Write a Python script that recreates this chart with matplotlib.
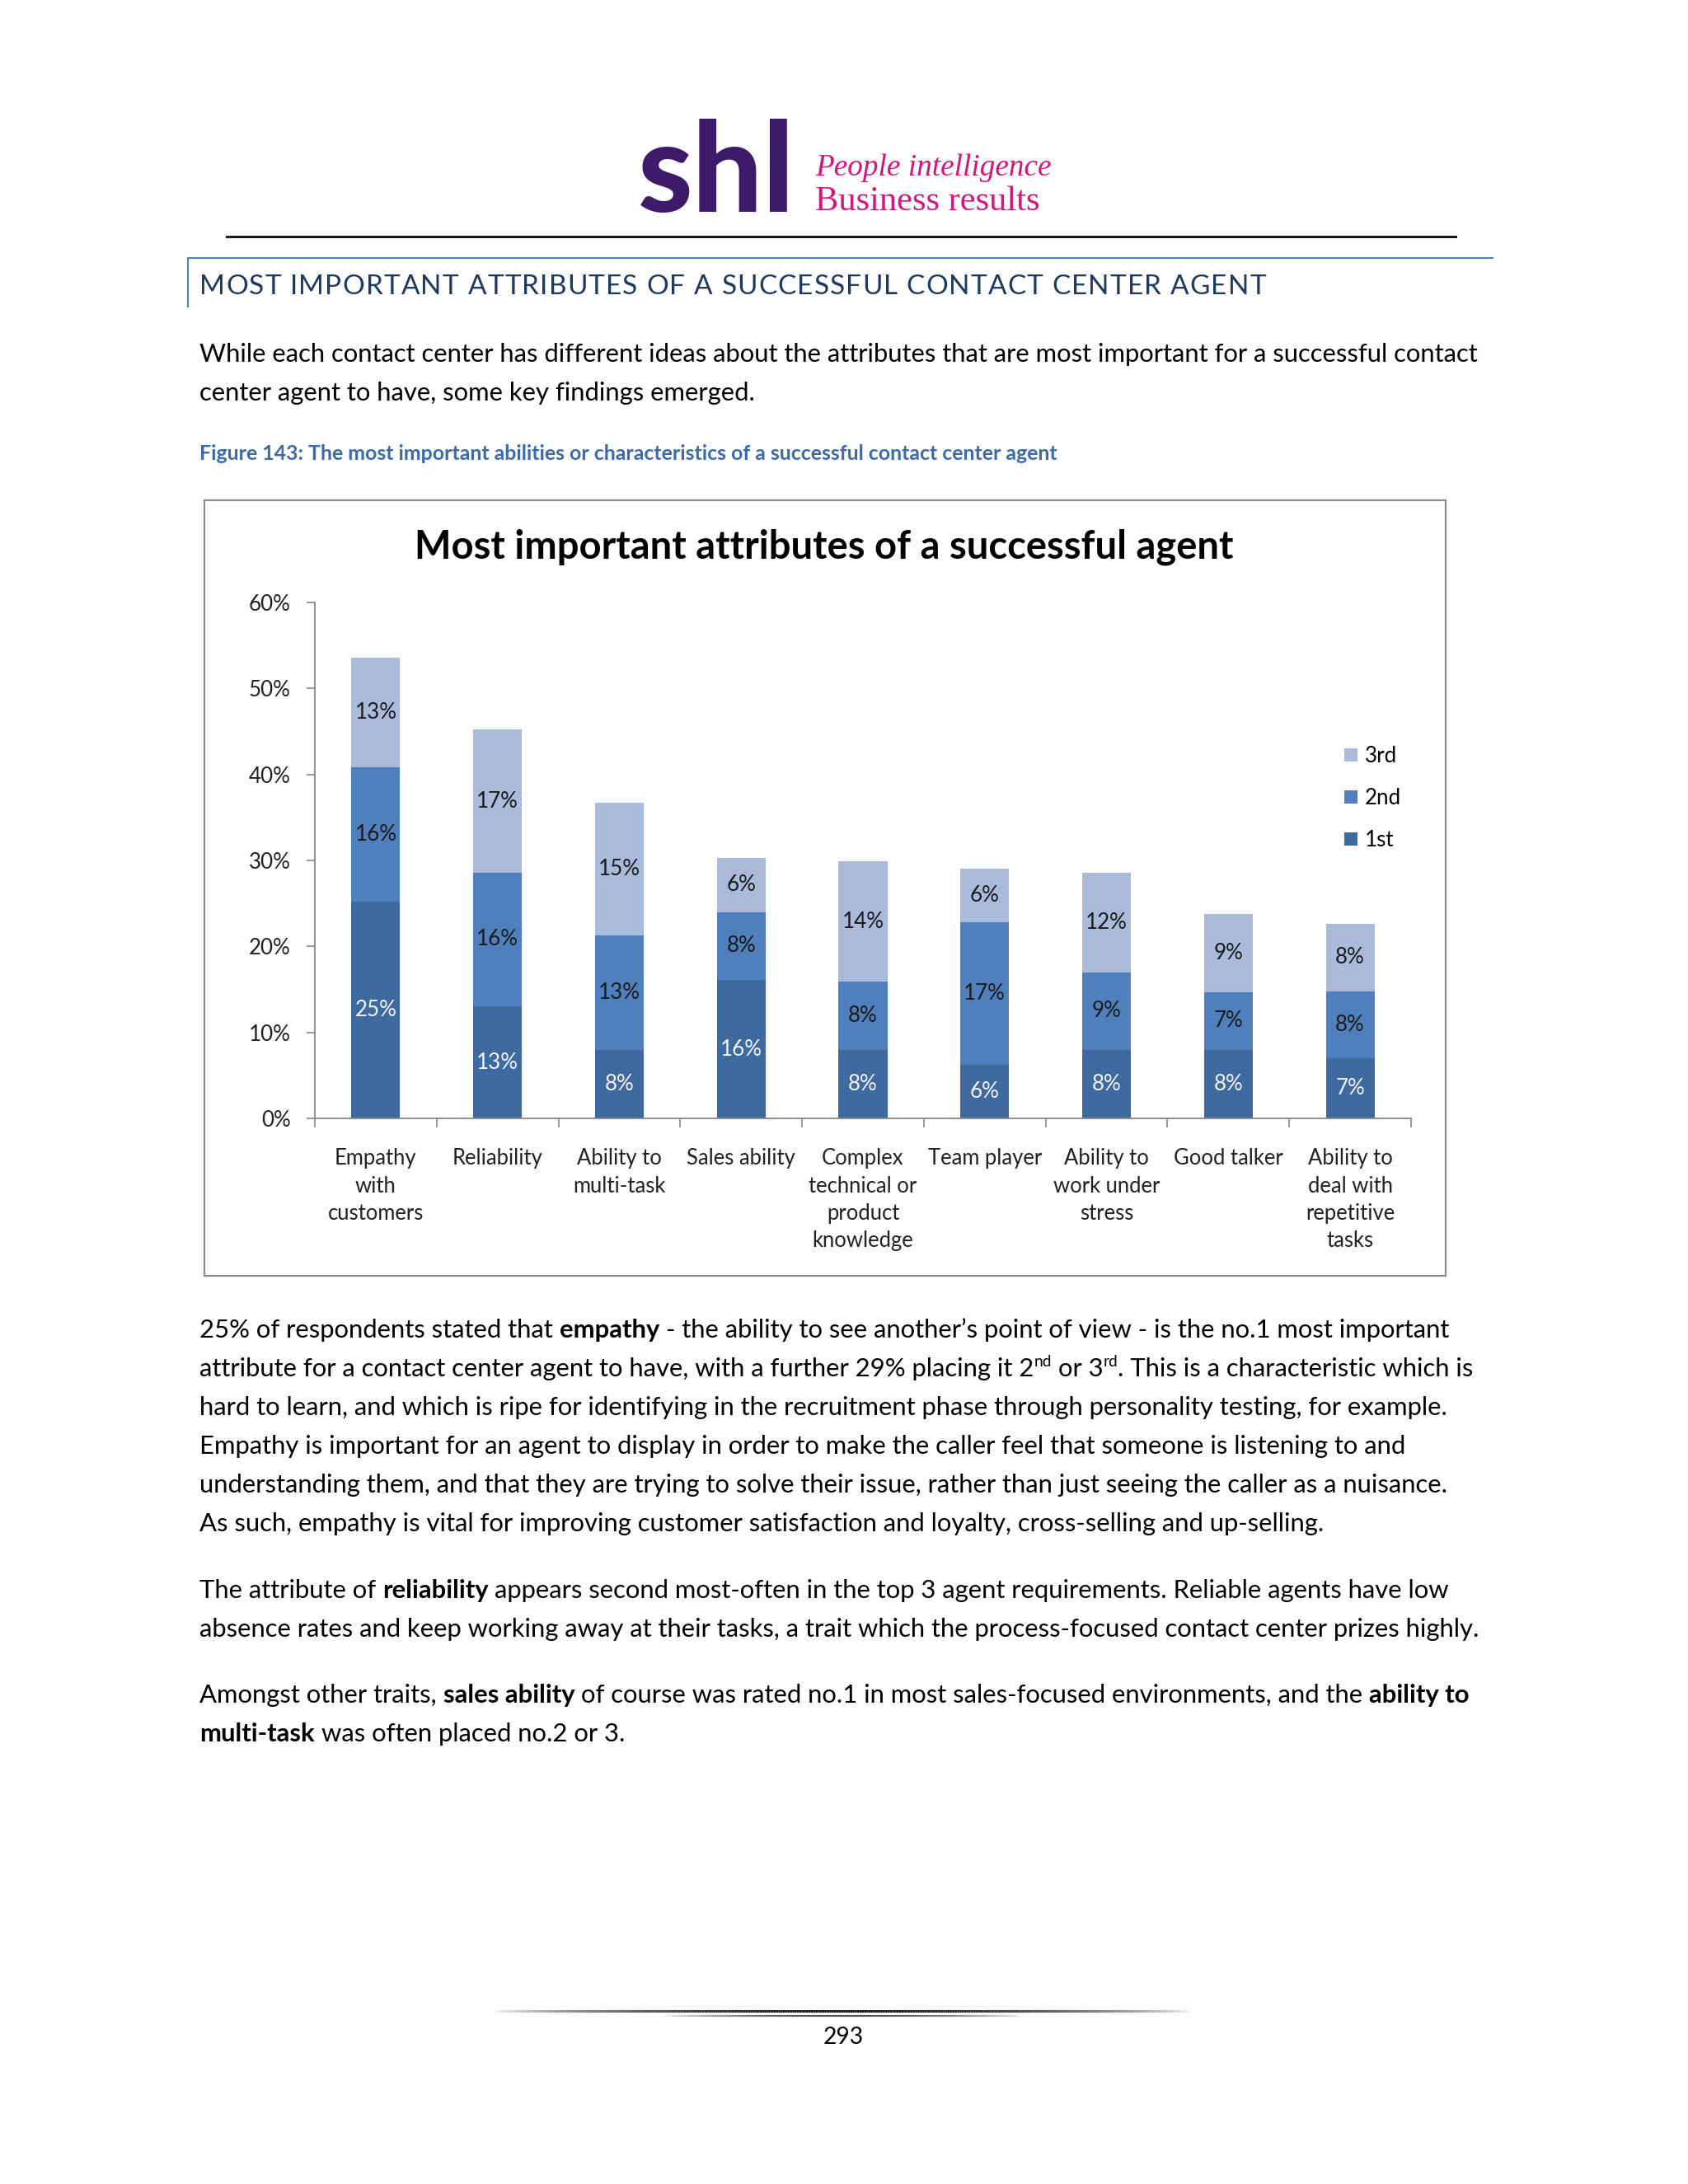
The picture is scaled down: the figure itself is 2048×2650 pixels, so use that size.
import numpy as np
import matplotlib
matplotlib.use('Agg')
import matplotlib.pyplot as plt
from matplotlib.patches import Rectangle
from matplotlib.collections import LineCollection
from matplotlib.colors import to_rgb

# ---- chart data ----
categories = ['Empathy\nwith\ncustomers', 'Reliability', 'Ability to\nmulti-task', 'Sales ability',
              'Complex\ntechnical or\nproduct\nknowledge', 'Team player', 'Ability to\nwork under\nstress',
              'Good talker', 'Ability to\ndeal with\nrepetitive\ntasks']
first = [25.2, 13.0, 8.0, 16.1, 8.0, 6.2, 8.0, 8.0, 7.0]
second = [15.6, 15.6, 13.3, 7.9, 7.9, 16.6, 9.0, 6.7, 7.8]
third = [12.8, 16.6, 15.4, 6.3, 14.0, 6.2, 11.6, 9.1, 7.8]
series_names = ['1st', '2nd', '3rd']
yticks = [0, 10, 20, 30, 40, 50, 60]

chart_title = 'Most important attributes of a successful agent'
heading = 'MOST IMPORTANT ATTRIBUTES OF A SUCCESSFUL CONTACT CENTER AGENT'
caption = 'Figure 143: The most important abilities or characteristics of a successful contact center agent'
intro = ['While each contact center has different ideas about the attributes that are most important for a successful contact',
         'center agent to have, some key findings emerged.']
body1 = [
    [('25% of respondents stated that ', 'n'), ('empathy', 'b'), (' - the ability to see another\u2019s point of view - is the no.1 most important', 'n')],
    [('attribute for a contact center agent to have, with a further 29% placing it 2', 'n'), ('nd', 's'), (' or 3', 'n'), ('rd', 's'), ('. This is a characteristic which is', 'n')],
    [('hard to learn, and which is ripe for identifying in the recruitment phase through personality testing, for example.', 'n')],
    [('Empathy is important for an agent to display in order to make the caller feel that someone is listening to and', 'n')],
    [('understanding them, and that they are trying to solve their issue, rather than just seeing the caller as a nuisance.', 'n')],
    [('As such, empathy is vital for improving customer satisfaction and loyalty, cross-selling and up-selling.', 'n')],
]
body2 = [
    [('The attribute of ', 'n'), ('reliability', 'b'), (' appears second most-often in the top 3 agent requirements. Reliable agents have low', 'n')],
    [('absence rates and keep working away at their tasks, a trait which the process-focused contact center prizes highly.', 'n')],
]
body3 = [
    [('Amongst other traits, ', 'n'), ('sales ability', 'b'), (' of course was rated no.1 in most sales-focused environments, and the ', 'n'), ('ability to', 'b')],
    [('multi-task', 'b'), (' was often placed no.2 or 3.', 'n')],
]
page_number = '293'

colors = ['#3f6aa0', '#4f80bd', '#a9badb']
label_colors = ['#f4f4f4', '#1a1a1a', '#1a1a1a']

W, H = 2048, 2650
SANS = 'Lato'
SERIF = 'Liberation Serif'
plt.rcParams['font.family'] = [SANS, 'DejaVu Sans']

fig = plt.figure(figsize=(W / 100, H / 100), dpi=100)
fig.patch.set_facecolor('white')
page = fig.add_axes([0, 0, 1, 1])
page.set_xlim(0, W)
page.set_ylim(H, 0)
page.axis('off')
renderer = fig.canvas.get_renderer()


def text_width(s, size, **kw):
    t = page.text(0, 0, s, fontsize=size, **kw)
    w = t.get_window_extent(renderer).width
    t.remove()
    return w


def fit(s, width, **kw):
    return 20 * width / text_width(s, 20, **kw)


def rich_line(x, y, parts, size, color='black'):
    sp = text_width('a a', size) - text_width('aa', size)
    px = size * 100 / 72
    for s, kind in parts:
        lead = len(s) - len(s.lstrip(' '))
        trail = len(s) - len(s.rstrip(' '))
        core = s.strip(' ')
        x += lead * sp
        if kind == 's':
            t = page.text(x, y - 0.38 * px, core, fontsize=size * 0.62, color=color, va='baseline')
        else:
            t = page.text(x, y, core, fontsize=size, color=color, va='baseline',
                          fontweight='bold' if kind == 'b' else 'normal')
        x += t.get_window_extent(renderer).width + trail * sp


def tracked(x, y, s, size, width, **kw):
    # letter-spaced line stretched to a given width
    base = text_width('HH', size, **kw)
    adv = [text_width('H' + c + 'H', size, **kw) - base for c in s]
    track = (width - sum(adv)) / (len(s) - 1)
    for c, a in zip(s, adv):
        if c != ' ':
            page.text(x, y, c, fontsize=size, va='baseline', **kw)
        x += a + track


def fade_line(x0, x1, y, lw, color, n=300):
    xs = np.linspace(x0, x1, n + 1)
    segs = [[(xs[i], y), (xs[i + 1], y)] for i in range(n)]
    mid = (xs[:-1] + xs[1:]) / 2
    a = np.sin(np.pi * (mid - x0) / (x1 - x0)) ** 0.7
    cols = [(*to_rgb(color), v) for v in a]
    page.add_collection(LineCollection(segs, colors=cols, linewidths=lw))


# ---- header / logo ----
logo_size = fit('shl', 192, fontweight='black')
page.text(774, 257, 'shl', fontsize=logo_size, fontweight='black', color='#3e1a6b', va='baseline')
tag1 = fit('People intelligence', 287, family=SERIF, style='italic')
page.text(989, 213, 'People intelligence', fontsize=tag1, family=SERIF, style='italic', color='#d4177f', va='baseline')
tag2 = fit('Business results', 273, family=SERIF)
page.text(989, 255, 'Business results', fontsize=tag2, family=SERIF, color='#d4177f', va='baseline')
page.plot([275, 1766], [287, 287], color='#1a1a1a', lw=2.2)

# section heading box
page.plot([228, 1811], [313, 313], color='#4f81bd', lw=1.5)
page.plot([228, 228], [313, 372], color='#4f81bd', lw=1.5)
tracked(242, 357, heading, 24, 1294, color='#1f3a5f')

# body text
body_size = fit(intro[0], 1558)
for i, line in enumerate(intro):
    page.text(242, 439 + 47 * i, line, fontsize=body_size, va='baseline')
cap_size = fit(caption, 1041, fontweight='bold')
page.text(242, 558, caption, fontsize=cap_size, fontweight='bold', color='#3d6aa8', va='baseline')

for i, parts in enumerate(body1):
    rich_line(242, 1623 + 47 * i, parts, body_size)
for i, parts in enumerate(body2):
    rich_line(242, 1939 + 47 * i, parts, body_size)
for i, parts in enumerate(body3):
    rich_line(242, 2066 + 47 * i, parts, body_size)

# footer
fade_line(600, 1445, 2440, 2.2, '#111111')
fade_line(805, 1240, 2446, 1.6, '#555555')
pn_size = fit(page_number, 49)
page.text(1023, 2480, page_number, fontsize=pn_size, ha='center', va='baseline')

# ---- chart frame ----
page.add_patch(Rectangle((248, 607), 1506, 941, fill=False, ec='#8c8c8c', lw=1.6))
title_size = fit(chart_title, 993, fontweight='bold')
page.text(1000, 677, chart_title, fontsize=title_size, fontweight='bold', ha='center', va='baseline')

lab_size = fit('60%', 51)
cat_size = fit('Reliability', 110)

ax = fig.add_axes([382 / W, 1 - 1357 / H, (1712 - 382) / W, (1357 - 731) / H])
ax.patch.set_alpha(0)
x = np.arange(len(categories))
bottom = np.zeros(len(categories))
handles = []
for vals, col, lc, name in zip([first, second, third], colors, label_colors, series_names):
    bars = ax.bar(x, vals, 0.4, bottom=bottom, color=col, label=name)
    ax.bar_label(bars, labels=[f'{v:.0f}%' for v in vals], label_type='center', color=lc, fontsize=lab_size)
    bottom = bottom + np.array(vals)
    handles.append(bars)

ax.set_xlim(-0.5, len(categories) - 0.5)
ax.set_ylim(0, 60)
ax.set_yticks(yticks)
ax.set_yticklabels([f'{v}%' for v in yticks])
ax.set_xticks(x)
ax.set_xticklabels(categories, linespacing=1.42)
ax.set_xticks(np.arange(-0.5, len(categories), 1), minor=True)
ax.tick_params(axis='y', length=7, width=1.2, color='#868686', labelsize=lab_size, pad=14, labelcolor='#222222')
ax.tick_params(axis='x', which='major', length=0, labelsize=cat_size, pad=26, labelcolor='#222222')
ax.tick_params(axis='x', which='minor', length=8, width=1.2, color='#868686')
for s in ['top', 'right']:
    ax.spines[s].set_visible(False)
for s in ['left', 'bottom']:
    ax.spines[s].set_color('#868686')
    ax.spines[s].set_linewidth(1.3)

ax.legend(handles[::-1], series_names[::-1], loc='upper left', bbox_to_anchor=(1618 / W, 1 - 892 / H),
          bbox_transform=fig.transFigure, frameon=False, fontsize=lab_size, handlelength=0.6,
          handleheight=0.6, handletextpad=0.35, labelspacing=1.0, borderpad=0)

fig.savefig('out.png', dpi=100)
